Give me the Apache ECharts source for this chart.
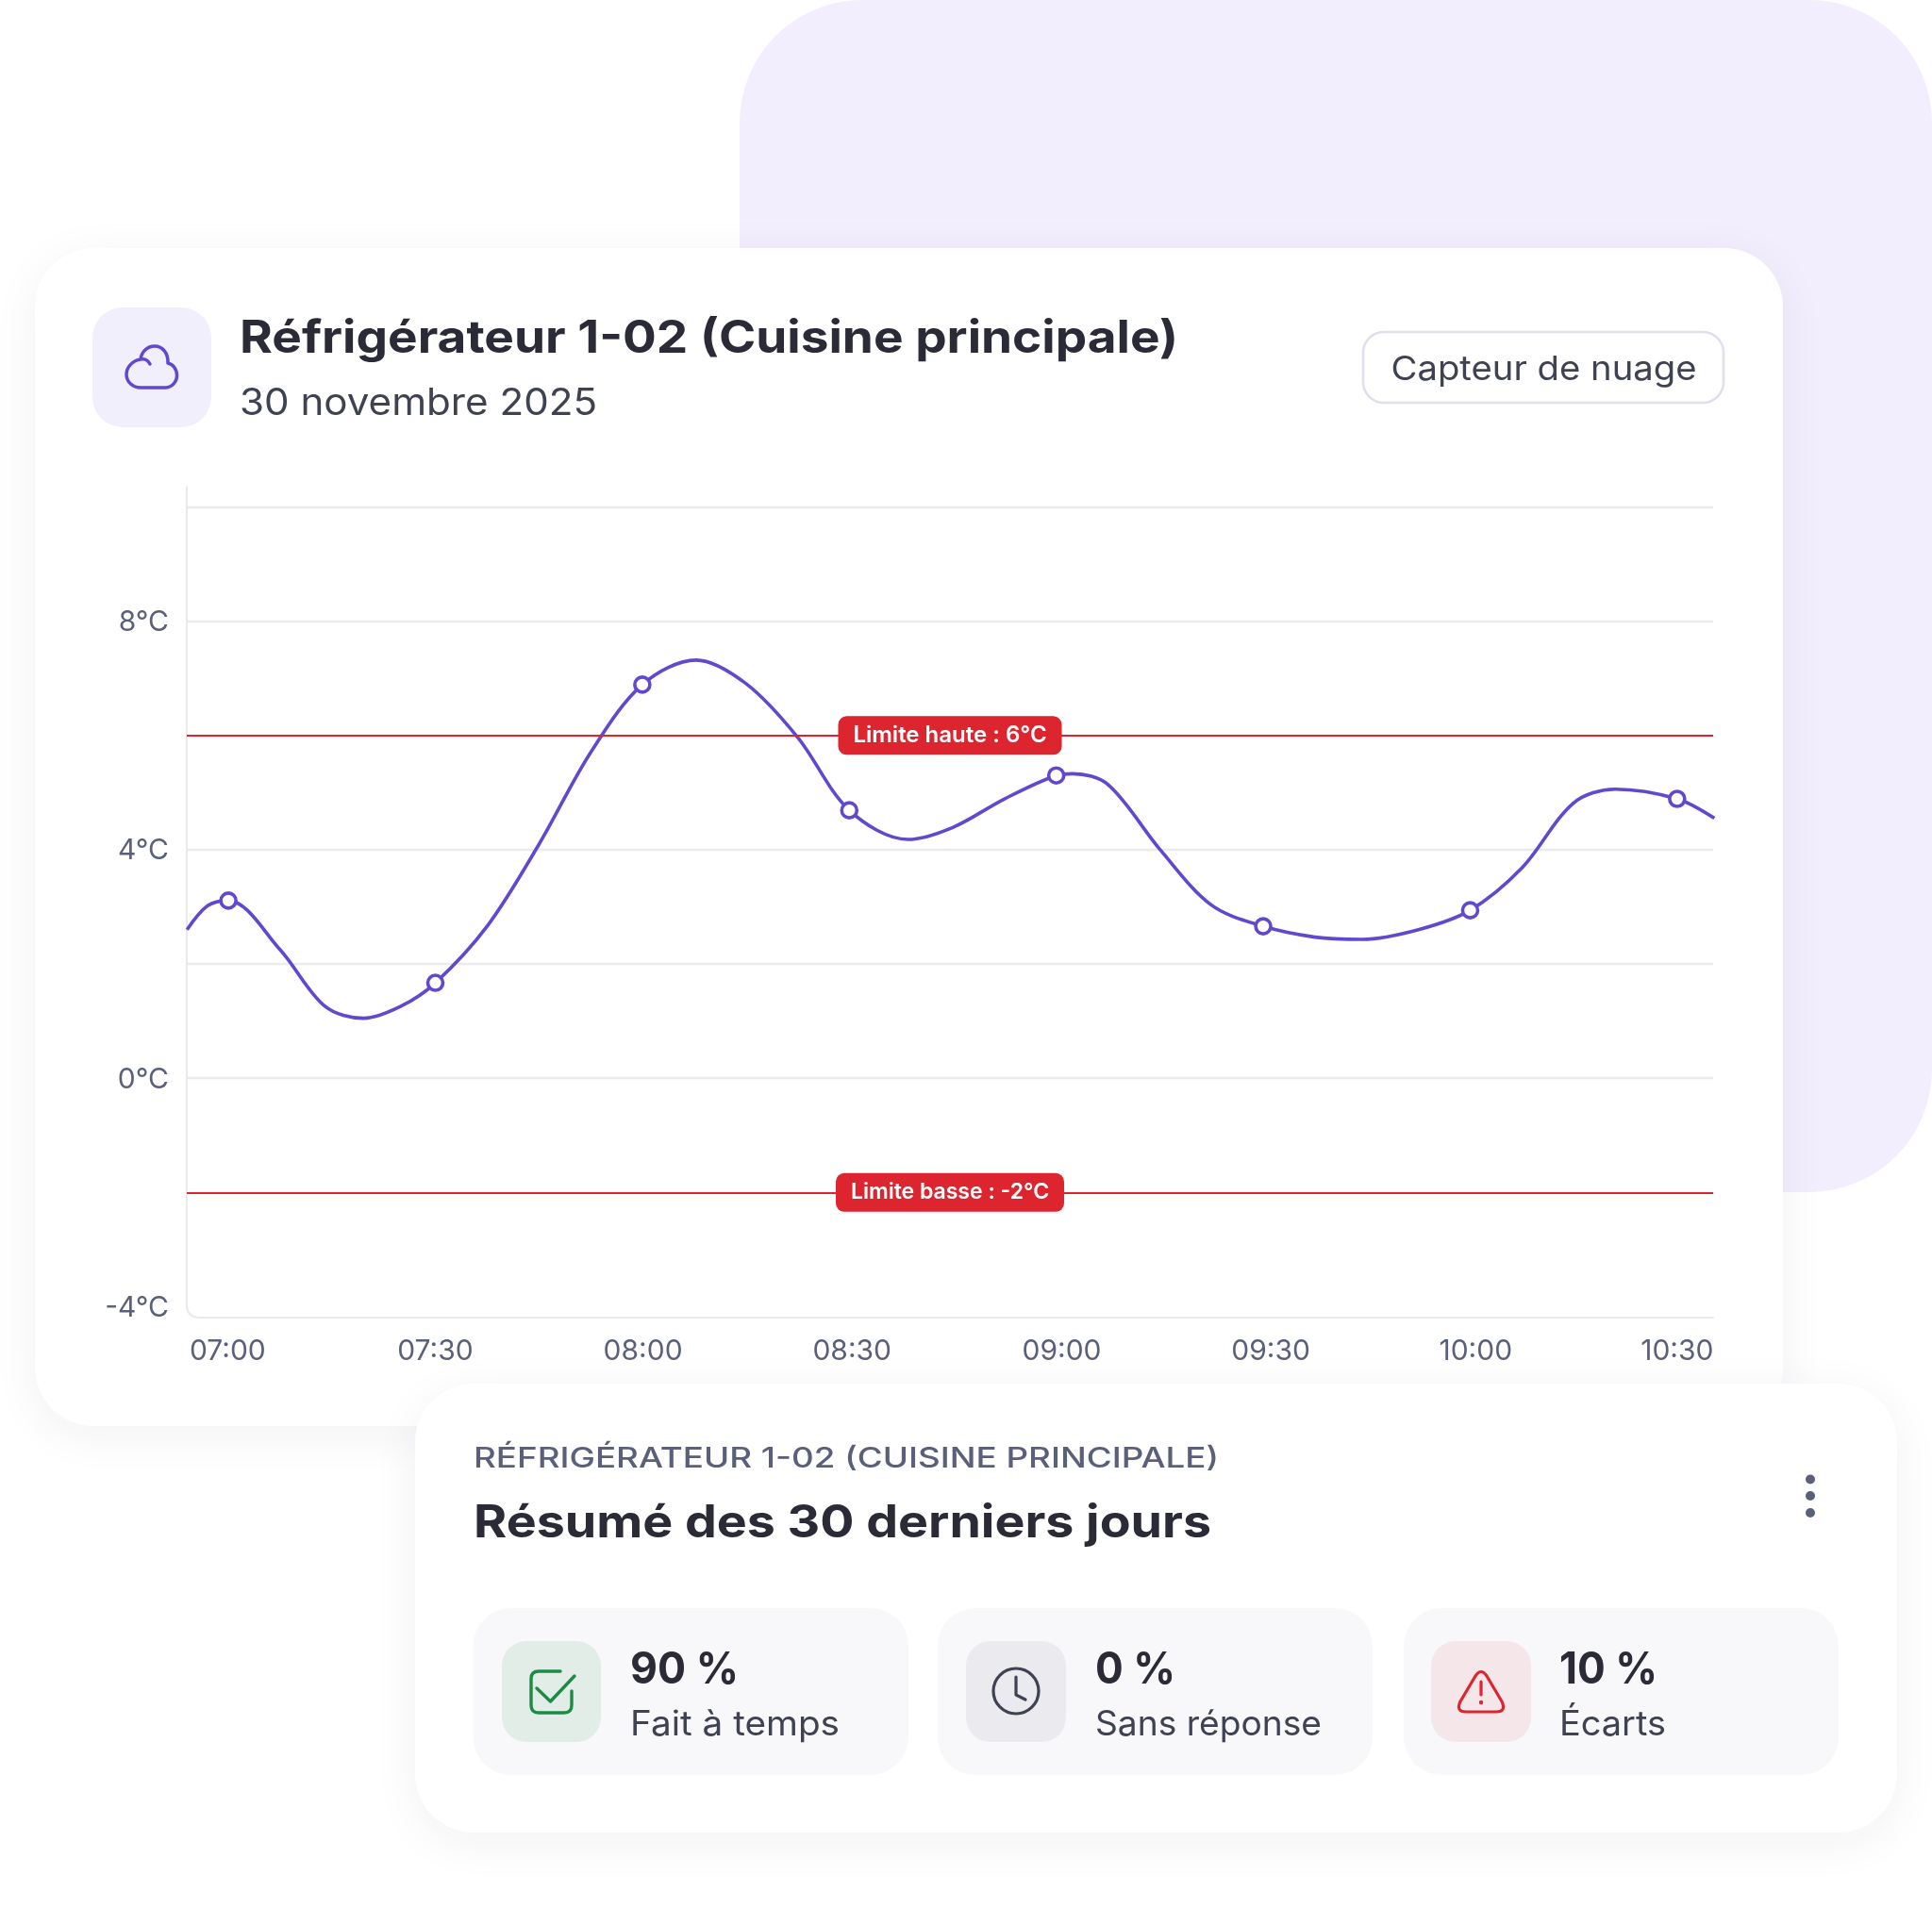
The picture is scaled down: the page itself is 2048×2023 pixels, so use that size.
<!DOCTYPE html>
<html lang="fr">
<head>
<meta charset="utf-8">
<title>Réfrigérateur 1-02</title>
<style>html,body{margin:0;padding:0;background:#fff}#c{width:2048px;height:2023px}</style>
<script src="https://cdn.jsdelivr.net/npm/echarts@6/dist/echarts.min.js"></script>
</head>
<body>
<div id="c"></div>
<script>
// ---- data ----
const curveMinutes = [-6,-3,0,7.5,14,19.6,25,30,37.5,45,52.5,60,67.8,75,82.5,90,98.5,105,112.5,120,122.4,127.5,135,142.5,150,157.5,164.3,172.5,180,187.5,195,201,210,215.4];
const curveValues = [2.60,3.02,3.11,2.25,1.26,1.05,1.26,1.67,2.66,4.09,5.70,6.89,7.32,6.91,5.97,4.69,4.18,4.39,4.89,5.30,5.33,5.14,4.01,3.03,2.66,2.47,2.43,2.60,2.94,3.68,4.82,5.06,4.89,4.55];
const markerMinutes = [0,30,60,90,120,150,180,210];
const markerValues = [3.11,1.67,6.89,4.69,5.30,2.66,2.94,4.89];
const timeLabels = ['07:00','07:30','08:00','08:30','09:00','09:30','10:00','10:30'];
const timeLabelAt = [-0.1,30,60.1,90.4,120.8,151.1,180.8,210];
const yLabelValues = [-4,0,4,8];
const yGridValues = [-2,0,2,4,6,8,10];
const limitHigh = 6, limitLow = -2;
const limitHighText = 'Limite haute : 6°C', limitLowText = 'Limite basse : -2°C';

const titleText = 'Réfrigérateur 1-02 (Cuisine principale)';
const dateText = '30 novembre 2025';
const badgeText = 'Capteur de nuage';
const eyebrowText = 'RÉFRIGÉRATEUR 1-02 (CUISINE PRINCIPALE)';
const summaryText = 'Résumé des 30 derniers jours';
const statValues = ['90 %','0 %','10 %'];
const statLabels = ['Fait à temps','Sans réponse','Écarts'];

// ---- helpers ----
const FONT = 'Inter, "Noto Sans", sans-serif';
const mctx = document.createElement('canvas').getContext('2d');
function txt(text,x,y,size,weight,fill,targetW,align){
  mctx.font = `${weight} ${size}px ${FONT}`;
  const w = mctx.measureText(text).width;
  return {type:'text',x,y,scaleX:targetW?targetW/w:1,
    style:{text,fontFamily:FONT,fontSize:size,fontWeight:weight,fill,textAlign:align||'left',textVerticalAlign:'middle'}};
}
function rect(x,y,w,h,r,fill,extra){
  return {type:'rect',shape:{x,y,width:w,height:h,r},style:Object.assign({fill},extra||{})};
}
let pathCount=0;
function stroke(d,color,w){
  const name='glyphPath'+(pathCount++);
  echarts.graphic.registerShape(name,echarts.graphic.extendPath(d,{}));
  return {type:name,style:{fill:'none',stroke:color,lineWidth:w,lineCap:'round',lineJoin:'round'}};
}

const PURPLE='#6149cf', RED='#dd2530', DARK='#2a2b36', TEXT='#3f4250', MUTED='#5b607a';
const shadow={shadowBlur:50,shadowColor:'rgba(40,40,70,0.06)',shadowOffsetY:10};
const G={l:198,r:1816,t:516,b:1397};

const graphics=[
  rect(784,0,1264,1264,130,'#f2eefd'),
  rect(37,263,1853,1249,62,'#ffffff',shadow),
  rect(98,326,126,127,32,'#f1effb'),
  stroke('M149 411 L175 411 C182 411 187.5 405 187.5 398 C187.5 391 183 386 178 385 C178.5 374 172 367 164 367 C156 367 150 373 149 381 C141 382 134 389 134 397 C134 405 141 411 149 411 Z M149 381 C153 380 157 382 159 386',PURPLE,3.5),
  txt(titleText,254,360,48,700,DARK,995),
  txt(dateText,254,428,39,400,TEXT,379),
  rect(1445,352,382,75,22,'#ffffff',{stroke:'#dfdfed',lineWidth:2.5}),
  txt(badgeText,1474.5,392,36,400,TEXT,324),
  // rounded frame of the plot
  stroke(`M${G.l} ${G.t} L${G.l} ${G.b-14} Q${G.l} ${G.b} ${G.l+14} ${G.b} L${G.r} ${G.b}`,'#e9e9ee',2),
  // summary card
  rect(440,1467,1571,476,62,'#ffffff',shadow),
  txt(eyebrowText,502,1547,30,500,MUTED,790),
  txt(summaryText,502,1616,48,700,DARK,782),
  {type:'circle',shape:{cx:1919,cy:1568.5,r:5},style:{fill:MUTED}},
  {type:'circle',shape:{cx:1919,cy:1586,r:5},style:{fill:MUTED}},
  {type:'circle',shape:{cx:1919,cy:1604,r:5},style:{fill:MUTED}},
  rect(501.5,1705,461.5,177,40,'#f8f8fb'),
  rect(994,1705,461,177,40,'#f8f8fb'),
  rect(1488,1705,461,177,40,'#f8f8fb'),
  rect(532,1740,105,107,26,'#e3ede7'),
  rect(1024,1740,106,107,26,'#ebebef'),
  rect(1517,1740,106,107,26,'#f5e6e9'),
  stroke('M594 1772 L571 1772 Q563 1772 563 1780 L563 1808 Q563 1816 571 1816 L598 1816 Q606 1816 606 1808 L606 1793 M569 1790 L583.5 1804 L609 1777',"#1f8a45",3.4),
  {type:'circle',shape:{cx:1077,cy:1793,r:24},style:{fill:'none',stroke:TEXT,lineWidth:3.2}},
  stroke('M1077 1778 L1077 1797 L1087 1802',TEXT,3.2),
  stroke('M1564 1777 Q1570 1768 1576 1777 L1592 1804 Q1597 1815 1586 1815 L1554 1815 Q1543 1815 1548 1804 Z M1570 1783 L1570 1797',RED,3.2),
  {type:'circle',shape:{cx:1570,cy:1805,r:2.2},style:{fill:RED}},
  txt(statValues[0],668,1771,46,700,DARK,115),
  txt(statLabels[0],668,1829,37,400,TEXT,222),
  txt(statValues[1],1161,1771,46,700,DARK,85),
  txt(statLabels[1],1161,1829,37,400,TEXT,240),
  txt(statValues[2],1653,1771,46,700,DARK,104),
  txt(statLabels[2],1653,1829,37,400,TEXT,113)
];

function limitLine(value,text,w,size){
  return {yAxis:value,label:{formatter:'{t|'+text+'}',width:w,height:41,align:'center',verticalAlign:'middle',
    rich:{t:{color:'#ffffff',fontFamily:FONT,fontSize:size,fontWeight:600,lineHeight:37,padding:[4,0,0,0]}}}};
}

const chart=echarts.init(document.getElementById('c'),null,{renderer:'canvas'});
chart.setOption({
  animation:false,
  backgroundColor:'#ffffff',
  graphic:{elements:graphics},
  grid:{left:G.l,top:G.t,width:G.r-G.l,height:G.b-G.t,containLabel:false},
  xAxis:{
    type:'value',min:-6.03,max:215.22,
    axisLine:{show:false},axisTick:{show:false},splitLine:{show:false},
    axisLabel:{customValues:timeLabelAt,formatter:(v,i)=>timeLabels[timeLabelAt.indexOf(v)],
      color:MUTED,fontFamily:FONT,fontSize:30,margin:21,hideOverlap:false,showMinLabel:true,showMaxLabel:true}
  },
  yAxis:{
    type:'value',min:-4.19,max:10.355,
    axisLine:{show:false},
    axisTick:{show:false,customValues:yGridValues},
    splitLine:{show:true,lineStyle:{color:'#ebebef',width:2.4}},
    axisLabel:{customValues:yLabelValues,formatter:v=>'{t|'+v+'°C}',margin:19,showMinLabel:true,showMaxLabel:true,
      rich:{t:{color:MUTED,fontFamily:FONT,fontSize:30,padding:[3,0,0,0]}}}
  },
  series:[
    {name:'Limites',type:'line',data:[],silent:true,
     markLine:{silent:true,symbol:'none',animation:false,
       lineStyle:{color:RED,width:2.2,type:'solid'},
       label:{show:true,position:'insideMiddle',distance:0,backgroundColor:RED,borderRadius:9},
       emphasis:{disabled:true},
       data:[limitLine(limitHigh,limitHighText,237,24),limitLine(limitLow,limitLowText,242,23)]},z:3},
    {name:'Température',type:'line',smooth:0.33,showSymbol:false,symbol:'none',silent:true,z:4,
     lineStyle:{color:PURPLE,width:3.6},
     data:curveMinutes.map((m,i)=>[m,curveValues[i]])},
    {name:'Relevés',type:'scatter',symbol:'circle',symbolSize:16,silent:true,z:5,
     itemStyle:{color:'#ffffff',borderColor:PURPLE,borderWidth:3.6,opacity:1},
     data:markerMinutes.map((m,i)=>[m,markerValues[i]])}
  ]
});
</script>
</body>
</html>
